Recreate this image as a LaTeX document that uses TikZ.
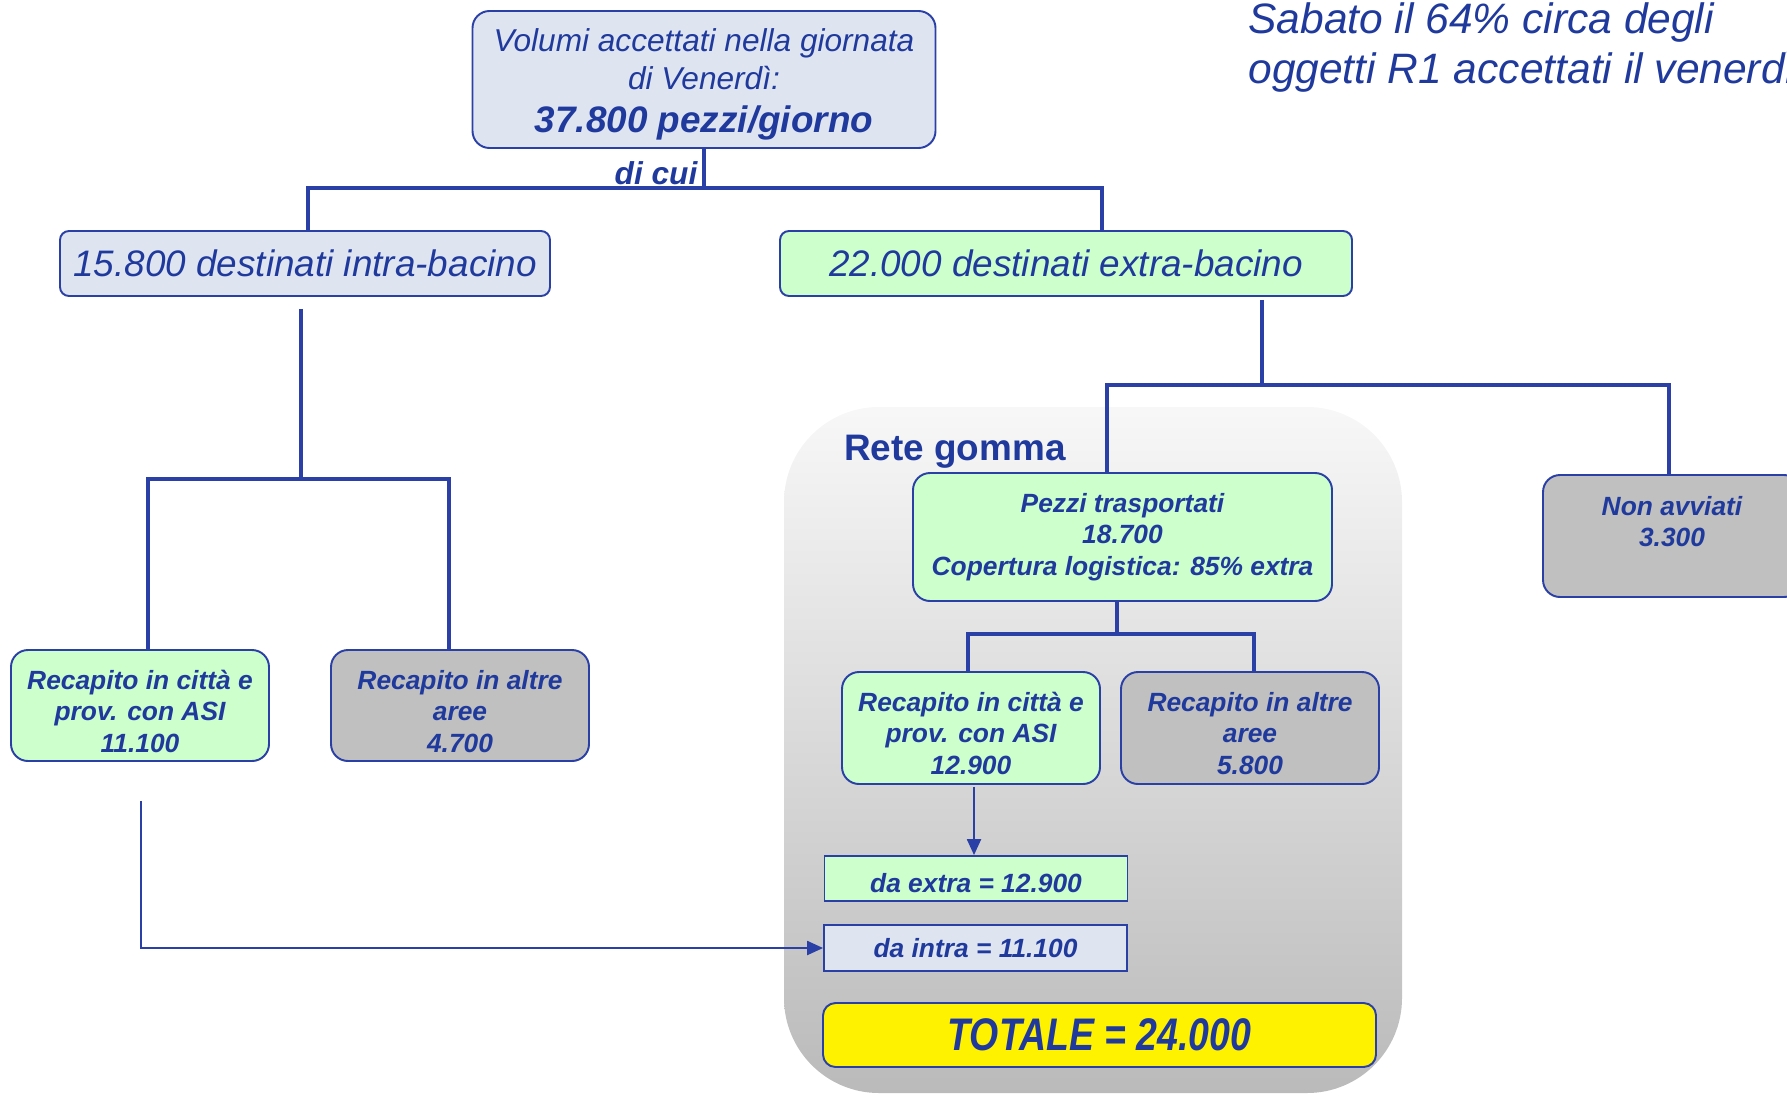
\documentclass[tikz,border=0pt]{standalone}
\usepackage{fontspec}
\setmainfont{Liberation Sans}
\usepackage{tikz}
\usetikzlibrary{shapes,arrows.meta,positioning,calc}

\definecolor{lineblue}{HTML}{2A40A6}
\definecolor{textblue}{HTML}{1F3A9C}
\definecolor{boxblue}{HTML}{DFE4F1}
\definecolor{boxgreen}{HTML}{CCFFCC}
\definecolor{boxgray}{HTML}{C0C0C0}

% taller first line, pushes the text block down a little
\newcommand{\topgap}[1]{\rule{0pt}{#1}}

\tikzset{
  box/.style={
    draw=lineblue,
    line width=1.1pt,
    rounded corners=0.34cm,
    align=center,
    inner sep=0pt,
    text=textblue,
    font=\fontsize{15}{18}\selectfont\bfseries\itshape,
  },
  flatbox/.style={box, rounded corners=0pt},
  wh/.style 2 args={minimum width=#1*0.02cm, minimum height=#2*0.02cm},
  link/.style={draw=lineblue, line width=2pt},
  arr/.style={draw=lineblue, line width=0.9pt, -{Triangle[length=9pt,width=8pt]}},
}

\begin{document}
\begin{tikzpicture}[x=0.02cm, y=-0.02cm]
        \path[use as bounding box] (0,0) rectangle (1787,1095);
        \clip (0,0) rectangle (1787,1095);

        % rete gomma area
        \path[top color=black!3, bottom color=black!27, rounded corners=1.9cm] (784,407) rectangle (1402,1093);
        \node (rete) [anchor=west, text=textblue, font=\fontsize{21}{25}\selectfont\bfseries] at (838,452) {Rete gomma};

        \node (vol) [box, fill=boxblue, wh={463}{137}, font=\fontsize{18}{21.5}\selectfont\itshape] at (704,79.5)
        {\topgap{18.5pt}Volumi accettati nella giornata\\di Venerdì:\\[3pt]{\fontsize{21}{24}\selectfont\bfseries 37.800 pezzi/giorno}};
        \node (dicui) [text=textblue, font=\fontsize{18}{21}\selectfont\bfseries\itshape] at (656,173) {di cui};

        \node (intra) [box, fill=boxblue, rounded corners=0.18cm, wh={490}{65}, font=\fontsize{21}{25}\selectfont\itshape] at (305,263.5)
        {15.800 destinati intra-bacino};
        \node (extra) [box, fill=boxgreen, rounded corners=0.18cm, wh={572}{65}, font=\fontsize{21}{25}\selectfont\itshape] at (1066,263.5)
        {22.000 destinati extra-bacino};

        \node (recI) [box, fill=boxgreen, wh={258}{111}] at (140,705.5) {\topgap{17.7pt}Recapito in città e\\prov. con ASI\\11.100};
        \node (altI) [box, fill=boxgray, wh={258}{111}] at (460,705.5) {\topgap{17.7pt}Recapito in altre\\aree\\4.700};

        \node (pezzi) [box, fill=boxgreen, wh={419}{128}] at (1122.5,537) {Pezzi trasportati\\18.700\\Copertura logistica: 85\% extra};
        \node (nonavv) [box, fill=boxgray, wh={258}{122}] at (1672,536) {\topgap{17.5pt}Non avviati\\3.300\\\strut};

        \node (recE) [box, fill=boxgreen, wh={258}{112}] at (971,728) {\topgap{16.8pt}Recapito in città e\\prov. con ASI\\12.900};
        \node (altE) [box, fill=boxgray, wh={258}{112}] at (1250,728) {\topgap{16.8pt}Recapito in altre\\aree\\5.800};

        \node (daextra) [flatbox, fill=boxgreen, wh={303}{45}] at (976,878.5) {\topgap{16pt}da extra = 12.900};
        \node (daintra) [flatbox, fill=boxblue, wh={303}{46}] at (975.5,948) {da intra = 11.100};
        \node (totale) [box, fill=yellow, rounded corners=0.25cm, wh={553}{64},
        font=\fontsize{26}{30}\selectfont\bfseries\itshape\addfontfeature{FakeStretch=0.82}] at (1099.5,1035) {TOTALE = 24.000};

        \node (nota) [anchor=north west, align=left, inner sep=0pt, text=textblue, font=\fontsize{24.2}{28.5}\selectfont\itshape] at (1248,2)
        {Sabato il 64\% circa degli\\oggetti R1 accettati il venerdì};

        \coordinate (split1) at (704,188);
        \coordinate (split2) at (301,479);
        \coordinate (split3) at (1262,385);
        \coordinate (split4) at (1117,634);
        \coordinate (recEout) at ($(recE.south)+(3,2)$);
        \coordinate (recIout) at ($(recI.south)+(1,39)$);

        \draw[link] (vol.south) -- (split1);
        \draw[link] ($(intra.north)+(3,0)$) |- (split1) -| ($(extra.north)+(36,0)$);

        \draw[link] ($(intra.south)+(-4,12)$) -- (split2);
        \draw[link] ($(recI.north)+(8,0)$) |- (split2) -| ($(altI.north)+(-11,0)$);

        \draw[link] ($(extra.south)+(196,3)$) -- (split3);
        \draw[link] ($(pezzi.north)+(-15.5,0)$) |- (split3) -| ($(nonavv.north)+(-3,0)$);

        \draw[link] ($(pezzi.south)+(-5.5,0)$) -- (split4);
        \draw[link] ($(recE.north)+(-3,0)$) |- (split4) -| ($(altE.north)+(4,0)$);

        \draw[arr] (recEout) -- (recEout |- daextra.north);
        \draw[arr] (recIout) |- (daintra.west);
\end{tikzpicture}
\end{document}
